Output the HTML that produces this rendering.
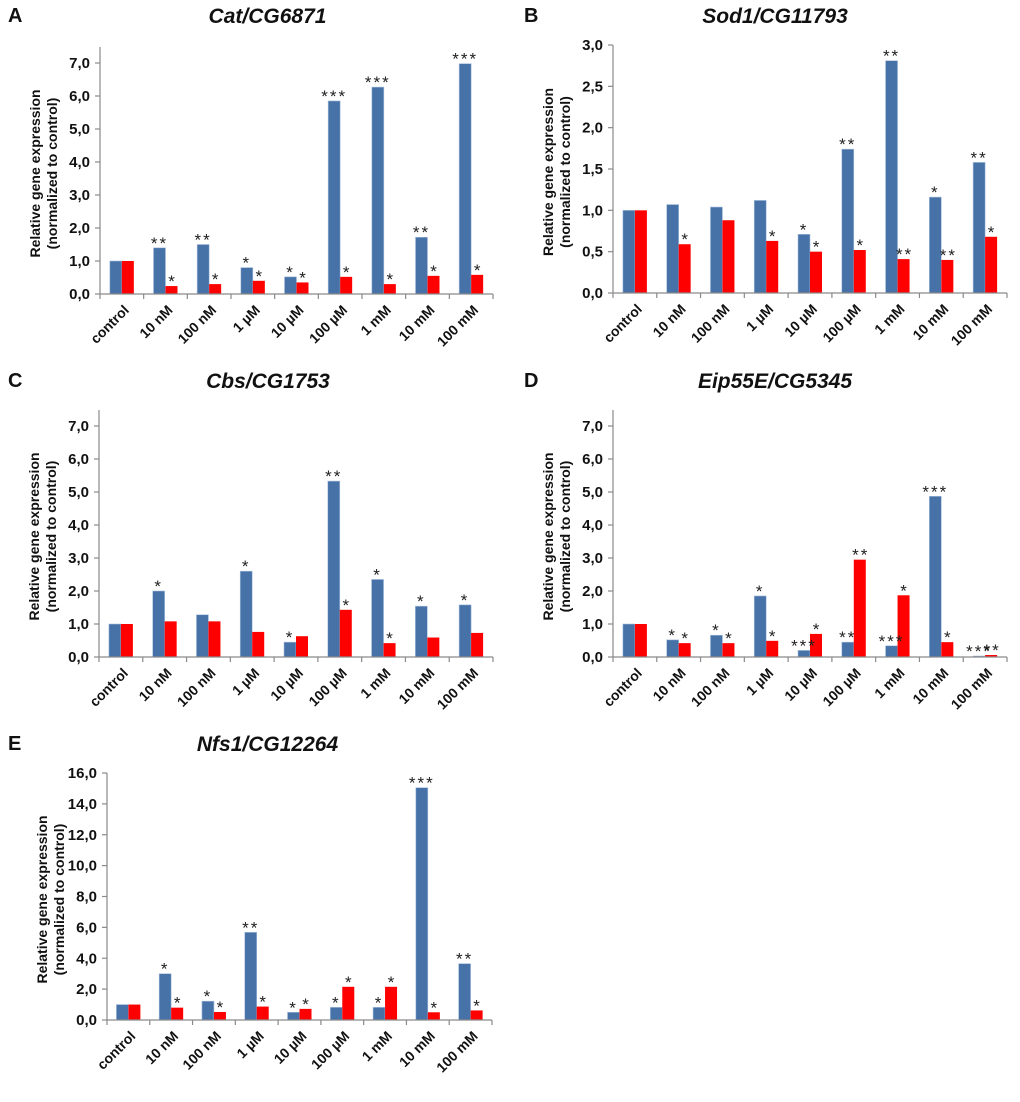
<!DOCTYPE html>
<html><head><meta charset="utf-8"><style>
body{margin:0;background:#fff}
svg{display:block}
text{font-family:"Liberation Sans",Arial,sans-serif}
</style></head><body>
<svg id="fig" width="1020" height="1102" viewBox="0 0 1020 1102" xmlns="http://www.w3.org/2000/svg"></svg>
<script>
const categories = ["control","10 nM","100 nM","1 µM","10 µM","100 µM","1 mM","10 mM","100 mM"];

const catBlue = [1.0,1.4,1.5,0.8,0.52,5.85,6.27,1.72,6.98];
const catRed  = [1.0,0.24,0.3,0.4,0.35,0.52,0.3,0.55,0.58];
const catSigBlue = ["","**","**","*","*","***","***","**","***"];
const catSigRed  = ["","*","*","*","*","*","*","*","*"];

const sodBlue = [1.0,1.07,1.04,1.12,0.71,1.74,2.81,1.16,1.58];
const sodRed  = [1.0,0.59,0.88,0.63,0.5,0.52,0.41,0.4,0.68];
const sodSigBlue = ["","","","","*","**","**","*","**"];
const sodSigRed  = ["","*","","*","*","*","**","**","*"];

const cbsBlue = [1.0,2.0,1.28,2.6,0.45,5.33,2.35,1.54,1.58];
const cbsRed  = [1.0,1.08,1.08,0.76,0.63,1.43,0.42,0.59,0.73];
const cbsSigBlue = ["","*","","*","*","**","*","*","*"];
const cbsSigRed  = ["","","","","","*","*","",""];

const eipBlue = [1.0,0.52,0.66,1.85,0.2,0.45,0.34,4.87,0.03];
const eipRed  = [1.0,0.42,0.42,0.49,0.7,2.95,1.87,0.45,0.06];
const eipSigBlue = ["","*","*","*","***","**","***","***","***"];
const eipSigRed  = ["","*","*","*","*","**","*","*","**"];

const nfsBlue = [1.0,3.0,1.22,5.68,0.5,0.82,0.82,15.05,3.65];
const nfsRed  = [1.0,0.8,0.52,0.87,0.72,2.15,2.15,0.5,0.62];
const nfsSigBlue = ["","*","*","**","*","*","*","***","**"];
const nfsSigRed  = ["","*","*","*","*","*","*","*","*"];

const ticks7  = [0,1,2,3,4,5,6,7];
const ticks3  = [0,0.5,1,1.5,2,2.5,3];
const ticks16 = [0,2,4,6,8,10,12,14,16];

const NS="http://www.w3.org/2000/svg";
const svg=document.getElementById("fig");
function mk(tag,attrs,parent){const e=document.createElementNS(NS,tag);for(const k in attrs)e.setAttribute(k,attrs[k]);(parent||svg).appendChild(e);return e;}
function fmt(v,d){return v.toFixed(d).replace(".",",");}

function panel(o){
  const g=mk("g",{});
  
  
  const L=mk("text",{x:o.lx,y:o.ty+7,"font-size":"20","font-weight":"bold",fill:"#111"},g);
  L.textContent=o.letter;
  
  
  const T=mk("text",{x:(o.x0+o.x1)/2+o.tdx,y:o.ty+8,"font-size":"21","font-weight":"bold","font-style":"italic","text-anchor":"middle",fill:"#111"},g);
  T.textContent=o.title;
  
  
  const yS=v=>o.y0-(v/o.max)*(o.y0-o.yMaxPx);
  const cw=(o.x1-o.x0)/categories.length;
  const xS=i=>o.x0+cw*(i+0.5);
  const ya=mk("line",{x1:o.x0,x2:o.x0,y1:o.top,y2:o.y0,stroke:"#8a8a8a","stroke-width":"1.2"},g);
  
  
  o.ticks.forEach(t=>{
    const y=yS(t);
    mk("line",{x1:o.x0-5,x2:o.x0,y1:y,y2:y,stroke:"#8a8a8a","stroke-width":"1.2"},g);
    const tl=mk("text",{x:o.x0-10,y:y+5,"font-size":"15","font-weight":"bold","text-anchor":"end",fill:"#111"},g);
    tl.textContent=fmt(t,1);
    
    
  });
  const cy=(o.top+o.y0)/2+3;
  const t1=mk("text",{x:0,y:0,"font-size":"14","font-weight":"bold","text-anchor":"middle",fill:"#111",transform:`translate(${o.x0-60},${cy}) rotate(-90)`},g);
  t1.textContent="Relative gene expression";
  
  
  const t2=mk("text",{x:0,y:0,"font-size":"14","font-weight":"bold","text-anchor":"middle",fill:"#111",transform:`translate(${o.x0-43},${cy}) rotate(-90)`},g);
  t2.textContent="(normalized to control)";
  
  
  categories.forEach((c,i)=>{
    const cx=xS(i);
    const hb=o.y0-yS(o.blue[i]), hr=o.y0-yS(o.red[i]);
    const b=mk("rect",{x:cx-12,y:o.y0-hb,width:12,height:hb,fill:"#4672a8",stroke:"#a9c0dd","stroke-width":"0.6"},g);
    
    
    const r=mk("rect",{x:cx,y:o.y0-hr,width:12,height:hr,fill:"#ff0000"},g);
    
    
    if(o.sb[i]){const s=mk("text",{x:cx-6,y:o.y0-hb+1,"font-size":"17","text-anchor":"middle",fill:"#222","letter-spacing":"2"},g);s.textContent=o.sb[i];
      
      }
    if(o.sr[i]){const s=mk("text",{x:cx+7,y:o.y0-hr+1,"font-size":"17","text-anchor":"middle",fill:"#222","letter-spacing":"2"},g);s.textContent=o.sr[i];
      
      }
    const xl=mk("text",{x:0,y:0,"font-size":"14","font-weight":"bold","text-anchor":"end",fill:"#111",transform:`translate(${cx+8},${o.y0+17}) rotate(-45)`},g);
    xl.textContent=c;
    
    
  });
  const xa=mk("line",{x1:o.x0,x2:o.x1,y1:o.y0,y2:o.y0,stroke:"#8a8a8a","stroke-width":"1.2"},g);
  
  
  for(let i=0;i<=categories.length;i++){const x=o.x0+cw*i;mk("line",{x1:x,x2:x,y1:o.y0,y2:o.y0+5,stroke:"#8a8a8a","stroke-width":"1.2"},g);}
}

panel({letter:"A",title:"Cat/CG6871",lx:8,ty:15,tdx:-29,x0:100,x1:493,y0:294,yMaxPx:63,max:7,top:47,ticks:ticks7,blue:catBlue,red:catRed,sb:catSigBlue,sr:catSigRed});
panel({letter:"B",title:"Sod1/CG11793",lx:524,ty:15,tdx:-35,x0:613,x1:1007,y0:293,yMaxPx:45,max:3,top:45,ticks:ticks3,blue:sodBlue,red:sodRed,sb:sodSigBlue,sr:sodSigRed});
panel({letter:"C",title:"Cbs/CG1753",lx:8,ty:380,tdx:-28,x0:99,x1:493,y0:657,yMaxPx:426,max:7,top:410,ticks:ticks7,blue:cbsBlue,red:cbsRed,sb:cbsSigBlue,sr:cbsSigRed});
panel({letter:"D",title:"Eip55E/CG5345",lx:524,ty:380,tdx:-35,x0:613,x1:1007,y0:657,yMaxPx:426,max:7,top:410,ticks:ticks7,blue:eipBlue,red:eipRed,sb:eipSigBlue,sr:eipSigRed});
panel({letter:"E",title:"Nfs1/CG12264",lx:8,ty:743,tdx:-32,x0:107,x1:492,y0:1020,yMaxPx:773,max:16,top:773,ticks:ticks16,blue:nfsBlue,red:nfsRed,sb:nfsSigBlue,sr:nfsSigRed});
</script>
</body></html>
